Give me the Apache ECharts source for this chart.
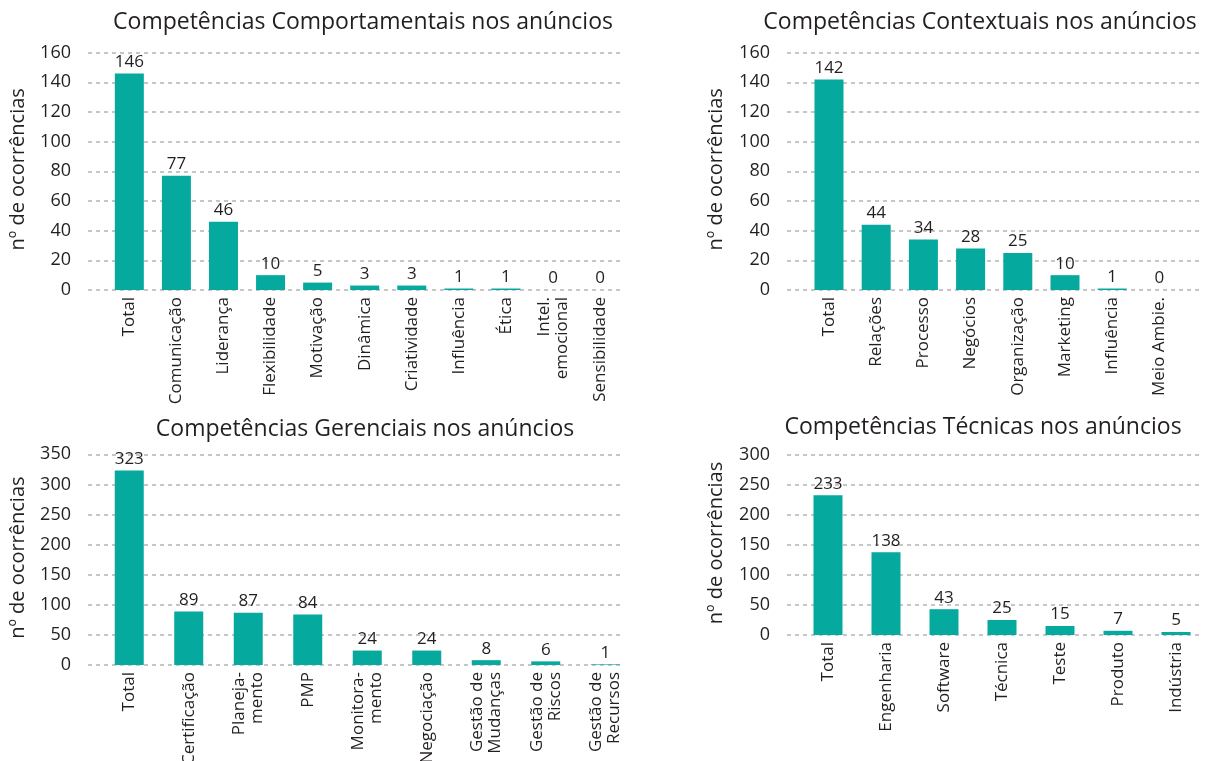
<!DOCTYPE html>
<html>
<head>
<meta charset="utf-8">
<script src="https://cdn.jsdelivr.net/npm/echarts@6/dist/echarts.min.js"></script>
<style>
  html, body { margin: 0; padding: 0; background: #ffffff; }
  #chart { width: 1206px; height: 761px; }
</style>
</head>
<body>
<div id="chart"></div>
<script>
// Occurrences of each competency group in the job ads
const comportTitle = 'Competências Comportamentais nos anúncios';
const comportCats = ['Total', 'Comunicação', 'Liderança', 'Flexibilidade', 'Motivação', 'Dinâmica',
  'Criatividade', 'Influência', 'Ética', 'Intel.\nemocional', 'Sensibilidade'];
const comportVals = [146, 77, 46, 10, 5, 3, 3, 1, 1, 0, 0];
const comportTicks = [0, 20, 40, 60, 80, 100, 120, 140, 160];

const contextTitle = 'Competências Contextuais nos anúncios';
const contextCats = ['Total', 'Relações', 'Processo', 'Negócios', 'Organização', 'Marketing',
  'Influência', 'Meio Ambie.'];
const contextVals = [142, 44, 34, 28, 25, 10, 1, 0];
const contextTicks = [0, 20, 40, 60, 80, 100, 120, 140, 160];

const gerenTitle = 'Competências Gerenciais nos anúncios';
const gerenCats = ['Total', 'Certificação', 'Planeja-\nmento', 'PMP', 'Monitora-\nmento', 'Negociação',
  'Gestão de\nMudanças', 'Gestão de\nRiscos', 'Gestão de\nRecursos'];
const gerenVals = [323, 89, 87, 84, 24, 24, 8, 6, 1];
const gerenTicks = [0, 50, 100, 150, 200, 250, 300, 350];

const tecTitle = 'Competências Técnicas nos anúncios';
const tecCats = ['Total', 'Engenharia', 'Software', 'Técnica', 'Teste', 'Produto', 'Indústria'];
const tecVals = [233, 138, 43, 25, 15, 7, 5];
const tecTicks = [0, 50, 100, 150, 200, 250, 300];

const yName = 'nº de ocorrências';

const FONT = '"Open Sans", "Noto Sans", sans-serif';
const TEXT = '#231f20';
const BAR = '#05a99e';
const GRIDLINE = '#c6c6c6';
const H = 761;

// Each panel: a wide grid carrying the value axis + dashed guide lines,
// and a grid on top of it holding the bars and category labels.
const panels = [
  { title: comportTitle, cats: comportCats, vals: comportVals, ticks: comportTicks,
    titleX: 363, titleY: 22, nameX: 18,
    top: 52.7, bottom: 471, lineL: 88, lineR: 582, barL: 105.8, barR: 582.4, barW: 29, labelMargin: 17 },
  { title: contextTitle, cats: contextCats, vals: contextVals, ticks: contextTicks,
    titleX: 980, titleY: 22, nameX: 716,
    top: 52.7, bottom: 471, lineL: 787, lineR: 3, barL: 805.4, barR: 23, barW: 29, labelMargin: 17 },
  { title: gerenTitle, cats: gerenCats, vals: gerenVals, ticks: gerenTicks,
    titleX: 365, titleY: 429, nameX: 18,
    top: 454.3, bottom: 96, lineL: 88, lineR: 582, barL: 99.5, barR: 571, barW: 29, labelMargin: 17 },
  { title: tecTitle, cats: tecCats, vals: tecVals, ticks: tecTicks,
    titleX: 983, titleY: 427, nameX: 716,
    top: 455, bottom: 126, lineL: 787, lineR: 3, barL: 799, barR: 1, barW: 29, labelMargin: 17 }
];

const grid = [], xAxis = [], yAxis = [], series = [], graphic = [];

panels.forEach((p, i) => {
  const min = p.ticks[0];
  const max = p.ticks[p.ticks.length - 1];
  const interval = p.ticks[1] - p.ticks[0];
  const a = i * 2, b = i * 2 + 1;

  // fixed pixel placement: labels may run to the page edge without shrinking the plot
  grid.push({ left: p.lineL, right: p.lineR, top: p.top, bottom: p.bottom,
    containLabel: false, outerBoundsMode: 'none' });
  grid.push({ left: p.barL, right: p.barR, top: p.top, bottom: p.bottom,
    containLabel: false, outerBoundsMode: 'none' });

  xAxis.push({ type: 'value', gridIndex: a, show: false, min: 0, max: 1 });
  xAxis.push({
    type: 'category', gridIndex: b, data: p.cats,
    axisLine: { show: false }, axisTick: { show: false },
    axisLabel: {
      interval: 0, rotate: 90, margin: 7,
      fontFamily: FONT, fontSize: 17, color: TEXT, lineHeight: 18
    }
  });

  yAxis.push({
    type: 'value', gridIndex: a, min: min, max: max, interval: interval,
    axisLine: { show: false }, axisTick: { show: false },
    axisLabel: { margin: p.labelMargin, fontFamily: FONT, fontSize: 18, color: TEXT },
    splitLine: { show: true, lineStyle: { color: GRIDLINE, width: 2, type: [4, 4] } }
  });
  yAxis.push({ type: 'value', gridIndex: b, min: min, max: max, interval: interval, show: false,
    splitLine: { show: false } });

  series.push({
    type: 'bar', xAxisIndex: b, yAxisIndex: b, data: p.vals,
    barWidth: p.barW,
    itemStyle: { color: BAR },
    label: { show: true, position: 'top', distance: 3,
      fontFamily: FONT, fontSize: 17, color: TEXT },
    silent: true, animation: false
  });

  graphic.push({
    type: 'text', x: p.titleX, y: p.titleY,
    style: { text: p.title, align: 'center', verticalAlign: 'middle',
      fontFamily: FONT, fontSize: 23, fill: TEXT }
  });
  // vertical axis title, centred on the plot height
  const midY = (p.top + (H - p.bottom)) / 2 - 2;
  graphic.push({
    type: 'text', x: p.nameX, y: midY, rotation: Math.PI / 2,
    style: { text: yName, align: 'center', verticalAlign: 'middle',
      fontFamily: FONT, fontSize: 20, fill: TEXT }
  });
});

const chart = echarts.init(document.getElementById('chart'), null, { renderer: 'canvas' });
chart.setOption({
  backgroundColor: '#ffffff',
  animation: false,
  grid: grid,
  xAxis: xAxis,
  yAxis: yAxis,
  series: series,
  graphic: graphic
});
</script>
</body>
</html>
